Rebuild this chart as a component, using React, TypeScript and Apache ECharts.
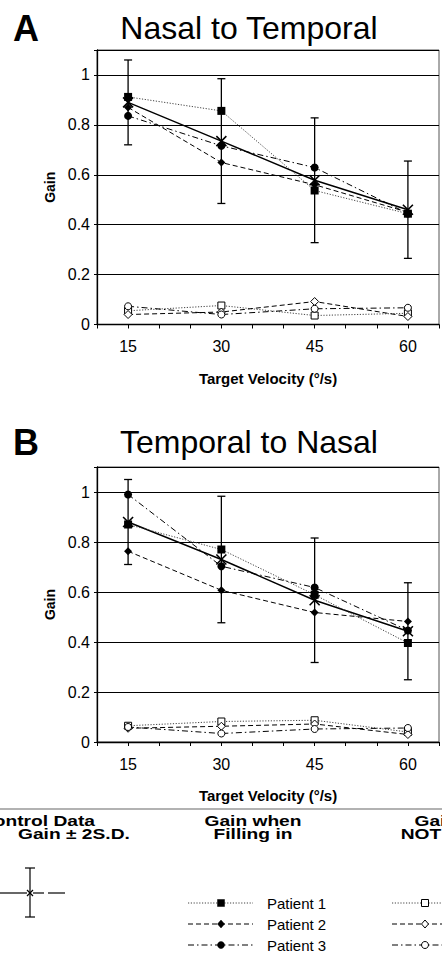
import React, { useEffect, useRef } from "react";
import * as echarts from "echarts";

// ---------- data ----------
const velocities = [15, 30, 45, 60];
const xLabelValues = [15, 30, 45, 60];

// Panel A: Nasal to Temporal
const ntControlMean = [0.89, 0.735, 0.578, 0.46];
const ntControl2SD = [0.17, 0.25, 0.25, 0.195];
const ntP1Fill = [0.912, 0.856, 0.537, 0.444];
const ntP2Fill = [0.87, 0.649, 0.56, 0.45];
const ntP3Fill = [0.836, 0.716, 0.629, 0.445];
const ntP1Not = [0.055, 0.076, 0.036, 0.045];
const ntP2Not = [0.04, 0.05, 0.092, 0.032];
const ntP3Not = [0.073, 0.04, 0.063, 0.067];

// Panel B: Temporal to Nasal
const tnControlMean = [0.88, 0.73, 0.567, 0.443];
const tnControl2SD = [0.17, 0.253, 0.249, 0.194];
const tnP1Fill = [0.87, 0.77, 0.589, 0.396];
const tnP2Fill = [0.763, 0.607, 0.518, 0.482];
const tnP3Fill = [0.99, 0.703, 0.618, 0.446];
const tnP1Not = [0.065, 0.082, 0.087, 0.04];
const tnP2Not = [0.055, 0.063, 0.072, 0.03];
const tnP3Not = [0.06, 0.034, 0.052, 0.056];

const panelTitles = ["Nasal to Temporal", "Temporal to Nasal"];
const panelLetters = ["A", "B"];
const patientNames = ["Patient 1", "Patient 2", "Patient 3"];

// ---------- styles ----------
const FONT = "'Liberation Sans', Arial, Helvetica, sans-serif";
const DOT = [1.2, 1.6];
const DASH = [5, 3];
const DASHDOT = [6, 3, 1.5, 3];
const X_SYMBOL = "path://M0,0L10,10M10,0L0,10";

const pts = (vals: number[]) => velocities.map((v, i) => [v, vals[i]]);

function panelSeries(
  idx: number,
  mean: number[],
  sd: number[],
  fills: number[][],
  nots: number[][]
) {
  const series: any[] = [];
  series.push({
    type: "custom",
    xAxisIndex: idx,
    yAxisIndex: idx,
    z: 3,
    data: velocities.map((v, i) => [v, mean[i], sd[i]]),
    renderItem: (params: any, api: any) => {
      const x = api.value(0);
      const y = api.value(1);
      const e = api.value(2);
      const top = api.coord([x, y + e]);
      const bot = api.coord([x, y - e]);
      const st = { stroke: "#000", lineWidth: 1.3 };
      return {
        type: "group",
        children: [
          { type: "line", shape: { x1: top[0], y1: top[1], x2: bot[0], y2: bot[1] }, style: st },
          { type: "line", shape: { x1: top[0] - 4, y1: top[1], x2: top[0] + 4, y2: top[1] }, style: st },
          { type: "line", shape: { x1: bot[0] - 4, y1: bot[1], x2: bot[0] + 4, y2: bot[1] }, style: st },
        ],
      };
    },
  });
  series.push({
    type: "line",
    xAxisIndex: idx,
    yAxisIndex: idx,
    z: 4,
    data: pts(mean),
    symbol: X_SYMBOL,
    symbolSize: 10,
    lineStyle: { color: "#000", width: 1.4, type: "solid" },
    itemStyle: { color: "rgba(255,255,255,0)", borderColor: "#000", borderWidth: 1.6 },
  });
  const dashes = [DOT, DASH, DASHDOT];
  const syms = ["rect", "diamond", "circle"];
  fills.forEach((vals, k) => {
    series.push({
      type: "line",
      xAxisIndex: idx,
      yAxisIndex: idx,
      z: 5,
      data: pts(vals),
      symbol: syms[k],
      symbolSize: 8,
      lineStyle: { color: k === 0 ? "#444" : "#000", width: 1, type: dashes[k] },
      itemStyle: { color: "#000", borderColor: "#000", borderWidth: 0 },
    });
  });
  nots.forEach((vals, k) => {
    series.push({
      type: "line",
      xAxisIndex: idx,
      yAxisIndex: idx,
      z: 5,
      data: pts(vals),
      symbol: syms[k],
      symbolSize: k === 1 ? 8 : 7,
      lineStyle: { color: k === 0 ? "#444" : "#000", width: 1, type: dashes[k] },
      itemStyle: { color: "#fff", borderColor: "#000", borderWidth: 1 },
    });
  });
  return series;
}

const grids = [
  { left: 97, right: 0, top: 50, height: 274.5 },
  { left: 97, right: 0, top: 467, height: 275 },
];

function xAxisFor(idx: number) {
  return {
    type: "value",
    gridIndex: idx,
    min: 10,
    max: 65,
    interval: 5,
    name: "Target Velocity (°/s)",
    nameLocation: "middle",
    nameGap: 46,
    nameTextStyle: { fontFamily: FONT, fontWeight: "bold", fontSize: 15, color: "#000" },
    axisLine: { show: true, lineStyle: { color: "#000", width: 1.3 } },
    axisTick: { show: true, length: 4, inside: false, lineStyle: { color: "#000", width: 1 } },
    splitLine: { show: false },
    axisLabel: {
      fontFamily: FONT,
      fontSize: 16,
      color: "#000",
      margin: 14,
      showMinLabel: true,
      showMaxLabel: true,
      formatter: (v: number) => (xLabelValues.indexOf(Math.round(v)) >= 0 ? String(Math.round(v)) : ""),
    },
  };
}

function yAxisFor(idx: number) {
  return {
    type: "value",
    gridIndex: idx,
    min: 0,
    max: 1.1,
    interval: 0.2,
    name: "Gain",
    nameLocation: "middle",
    nameRotate: 90,
    nameGap: 40,
    nameTextStyle: { fontFamily: FONT, fontWeight: "bold", fontSize: 14, color: "#000" },
    axisLine: { show: true, onZero: false, lineStyle: { color: "#000", width: 1.3 } },
    axisTick: { show: true, length: 3, lineStyle: { color: "#000" } },
    splitLine: { show: true, lineStyle: { color: "#000", width: 1.2 } },
    axisLabel: {
      fontFamily: FONT,
      fontSize: 16,
      color: "#000",
      margin: 7,
      formatter: (v: number) => (v > 1.05 ? "" : String(Math.round(v * 10) / 10)),
    },
  };
}

function legendGraphics() {
  const g: any[] = [];
  const bold = (text: string, x: number, y: number, align: string) => ({
    type: "text",
    x,
    y,
    scaleX: 1.28,
    style: {
      text,
      fontFamily: FONT,
      fontWeight: "bold",
      fontSize: 15,
      lineHeight: 13,
      fill: "#000",
      textAlign: align,
      textVerticalAlign: "middle",
    },
  });
  g.push({ type: "line", shape: { x1: 0, y1: 809, x2: 442, y2: 809 }, style: { stroke: "#666", lineWidth: 1.2 } });
  g.push(bold("Control Data", 95, 821, "right"));
  g.push(bold("Gain ± 2S.D.", 18, 834, "left"));
  const ls = { stroke: "#000", lineWidth: 1.2 };
  g.push({ type: "line", shape: { x1: 30, y1: 868, x2: 30, y2: 917 }, style: ls });
  g.push({ type: "line", shape: { x1: 25, y1: 868, x2: 35, y2: 868 }, style: ls });
  g.push({ type: "line", shape: { x1: 25, y1: 917, x2: 35, y2: 917 }, style: ls });
  g.push({ type: "line", shape: { x1: 0, y1: 893, x2: 27, y2: 893 }, style: ls });
  g.push({ type: "line", shape: { x1: 33, y1: 893, x2: 44, y2: 893 }, style: ls });
  g.push({ type: "line", shape: { x1: 48, y1: 893, x2: 65, y2: 893 }, style: ls });
  g.push({ type: "line", shape: { x1: 27, y1: 890, x2: 33, y2: 896 }, style: ls });
  g.push({ type: "line", shape: { x1: 33, y1: 890, x2: 27, y2: 896 }, style: ls });
  const cols = [
    { cx: 253, lineX: 188, title: ["Gain when", "Filling in"], open: false },
    { cx: 463, lineX: 392, title: ["Gain when", "NOT Filling in"], open: true },
  ];
  const rowsY = [903, 924, 945];
  const dashes = [DOT, DASH, DASHDOT];
  cols.forEach((c) => {
    g.push(bold(c.title[0], c.cx, 821, "center"));
    g.push(bold(c.title[1], c.cx, 834, "center"));
    rowsY.forEach((y, k) => {
      const mx = c.lineX + 33;
      g.push({
        type: "line",
        shape: { x1: c.lineX, y1: y, x2: c.lineX + 65, y2: y },
        style: { stroke: k === 0 ? "#444" : "#000", lineWidth: 1, lineDash: dashes[k] },
      });
      const mstyle = c.open
        ? { fill: "#fff", stroke: "#000", lineWidth: 1 }
        : { fill: "#000", stroke: "#000", lineWidth: 0.5 };
      if (k === 0) g.push({ type: "rect", shape: { x: mx - 3.5, y: y - 3.5, width: 7, height: 7 }, style: mstyle });
      if (k === 1)
        g.push({
          type: "polygon",
          shape: { points: [[mx, y - 4], [mx + 3.5, y], [mx, y + 4], [mx - 3.5, y]] },
          style: mstyle,
        });
      if (k === 2) g.push({ type: "circle", shape: { cx: mx, cy: y, r: 3.5 }, style: mstyle });
      g.push({
        type: "text",
        x: c.lineX + 79,
        y,
        style: {
          text: patientNames[k],
          fontFamily: FONT,
          fontSize: 15,
          fill: "#000",
          textAlign: "left",
          textVerticalAlign: "middle",
        },
      });
    });
  });
  return g;
}

function titleGraphics() {
  const g: any[] = [];
  const ys = [28, 442];
  ys.forEach((y, i) => {
    g.push({
      type: "text",
      x: 26,
      y,
      style: {
        text: panelLetters[i],
        fontFamily: FONT,
        fontWeight: "bold",
        fontSize: 36,
        fill: "#000",
        textAlign: "center",
        textVerticalAlign: "middle",
      },
    });
    g.push({
      type: "text",
      x: 249,
      y,
      style: {
        text: panelTitles[i],
        fontFamily: FONT,
        fontSize: 32,
        fill: "#000",
        textAlign: "center",
        textVerticalAlign: "middle",
      },
    });
  });
  return g;
}

export default function App() {
  const ref = useRef<HTMLDivElement>(null);
  useEffect(() => {
    if (!ref.current) return;
    const chart = echarts.init(ref.current, null, { renderer: "svg" });
    chart.setOption({
      animation: false,
      backgroundColor: "#fff",
      grid: grids.map((g) => ({ ...g, show: true, borderColor: "#555", borderWidth: 1, backgroundColor: "#fff" })),
      xAxis: [xAxisFor(0), xAxisFor(1)],
      yAxis: [yAxisFor(0), yAxisFor(1)],
      series: [
        ...panelSeries(0, ntControlMean, ntControl2SD, [ntP1Fill, ntP2Fill, ntP3Fill], [ntP1Not, ntP2Not, ntP3Not]),
        ...panelSeries(1, tnControlMean, tnControl2SD, [tnP1Fill, tnP2Fill, tnP3Fill], [tnP1Not, tnP2Not, tnP3Not]),
      ],
      graphic: [...titleGraphics(), ...legendGraphics()],
    });
    return () => chart.dispose();
  }, []);
  return (
    <div
      ref={ref}
      style={{ position: "fixed", left: 0, top: 0, width: 442, height: 959, background: "#fff" }}
    />
  );
}
